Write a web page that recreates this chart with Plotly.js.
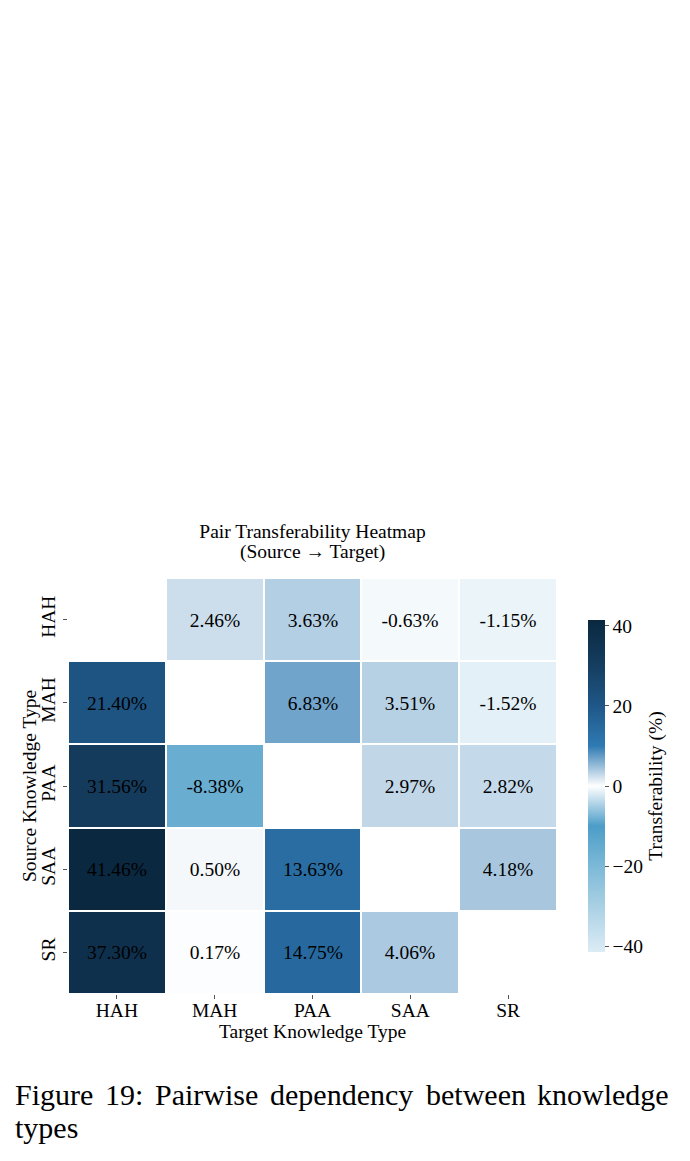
<!DOCTYPE html>
<html>
<head>
<meta charset="utf-8">
<script src="https://cdn.plot.ly/plotly-3.0.1.min.js"></script>
<style>
  html, body { margin: 0; padding: 0; background: #ffffff; }
  #chart { width: 690px; height: 1161px; }
</style>
</head>
<body>
<div id="chart"></div>
<script>
// Knowledge types (rows = source, columns = target)
const targetTypes = ["HAH", "MAH", "PAA", "SAA", "SR"];
const sourceTypes = ["HAH", "MAH", "PAA", "SAA", "SR"];

// Transferability (%) per source row; diagonal is undefined
const rowHAH = [null, 2.46, 3.63, -0.63, -1.15];
const rowMAH = [21.40, null, 6.83, 3.51, -1.52];
const rowPAA = [31.56, -8.38, null, 2.97, 2.82];
const rowSAA = [41.46, 0.50, 13.63, null, 4.18];
const rowSR  = [37.30, 0.17, 14.75, 4.06, null];

const colorbarTicks = [-40, -20, 0, 20, 40];

const z = [rowHAH, rowMAH, rowPAA, rowSAA, rowSR];
const cellText = z.map(r => r.map(v => v === null ? "" : v.toFixed(2) + "%"));

// symmetric colour range around zero
const allVals = z.flat().filter(v => v !== null);
const vmax = Math.max(...allVals.map(Math.abs));
const vmin = -vmax;

// blue scale: light at the low end, white at zero, navy at the top
const stopDefs = [
  [vmin, "#dcecf5"],
  [-30, "#a9d0e4"],
  [-20, "#7cb9d7"],
  [-10, "#4c9dc8"],
  [0, "#ffffff"],
  [10, "#2f7ab3"],
  [20, "#1f5788"],
  [30, "#153e60"],
  [vmax, "#0a2840"]
];
const colorscale = stopDefs.map(([v, c]) => [(v - vmin) / (vmax - vmin), c]);

const serif = "Liberation Serif, Times New Roman, serif";
const fs = 19.5;
const capSize = 30;

// plot area in pixels
const L = 68, R = 557, T = 578, B = 994;
const px2x = px => (px - L) / (R - L);
const px2y = py => (B - py) / (B - T);

const trace = {
  type: "heatmap",
  x: targetTypes,
  y: sourceTypes,
  z: z,
  text: cellText,
  texttemplate: "%{text}",
  textfont: { family: serif, size: fs, color: "#000000" },
  colorscale: colorscale,
  zmin: vmin,
  zmax: vmax,
  xgap: 2,
  ygap: 2,
  hoverongaps: false,
  colorbar: {
    x: px2x(588),
    xanchor: "left",
    y: px2y(786),
    yanchor: "middle",
    len: 332,
    lenmode: "pixels",
    ypad: 0,
    xpad: 0,
    thickness: 17,
    outlinewidth: 0,
    tickvals: colorbarTicks,
    ticks: "outside",
    ticklen: 4,
    tickcolor: "#555555",
    tickfont: { family: serif, size: fs, color: "#000000" },
    title: {
      text: "Transferability (%)",
      side: "right",
      font: { family: serif, size: fs, color: "#000000" }
    }
  }
};

const annotations = [];

// second title line
annotations.push({
  text: "(Source \u2192 Target)", xref: "paper", yref: "paper",
  x: 0.5, y: px2y(552), xanchor: "center", yanchor: "middle", showarrow: false,
  font: { family: serif, size: fs, color: "#000000" }
});

// axis titles
annotations.push({
  text: "Target Knowledge Type", xref: "paper", yref: "paper",
  x: 0.5, y: px2y(1031), xanchor: "center", yanchor: "middle", showarrow: false,
  font: { family: serif, size: fs, color: "#000000" }
});
annotations.push({
  text: "Source Knowledge Type", xref: "paper", yref: "paper",
  x: px2x(29), y: 0.5, xanchor: "center", yanchor: "middle", showarrow: false,
  textangle: -90,
  font: { family: serif, size: fs, color: "#000000" }
});

// caption: first line justified between the page margins, word by word
const captionLine1 = ["Figure", "19:", "Pairwise", "dependency", "between", "knowledge"];
const captionLine2 = "types";
const capLeft = 15, capRight = 669;
const ctx = document.createElement("canvas").getContext("2d");
ctx.font = capSize + "px 'Liberation Serif'";
const widths = captionLine1.map(w => ctx.measureText(w).width);
const gap = (capRight - capLeft - widths.reduce((a, b) => a + b, 0)) / (captionLine1.length - 1);
let cursor = capLeft;
captionLine1.forEach((w, i) => {
  annotations.push({
    text: w, xref: "paper", yref: "paper",
    x: px2x(cursor - 2), y: px2y(1094),
    xanchor: "left", yanchor: "middle", showarrow: false,
    font: { family: serif, size: capSize, color: "#000000" }
  });
  cursor += widths[i] + gap;
});
annotations.push({
  text: captionLine2, xref: "paper", yref: "paper",
  x: px2x(capLeft - 2), y: px2y(1127),
  xanchor: "left", yanchor: "middle", showarrow: false,
  font: { family: serif, size: capSize, color: "#000000" }
});

const layout = {
  width: 690,
  height: 1161,
  margin: { l: L, r: 690 - R, t: T, b: 1161 - B, pad: 0 },
  paper_bgcolor: "#ffffff",
  plot_bgcolor: "#ffffff",
  title: {
    text: "Pair Transferability Heatmap",
    font: { family: serif, size: fs, color: "#000000" },
    x: 0.5, xref: "paper", xanchor: "center",
    y: 1 - 531 / 1161, yref: "container", yanchor: "middle"
  },
  xaxis: {
    type: "category",
    showgrid: false, zeroline: false, showline: false,
    ticks: "outside", ticklen: 4, tickcolor: "#555555",
    ticklabelstandoff: -5,
    tickfont: { family: serif, size: fs, color: "#000000" }
  },
  yaxis: {
    type: "category",
    autorange: "reversed",
    showgrid: false, zeroline: false, showline: false,
    ticks: "outside", ticklen: 4, tickcolor: "#555555",
    tickangle: -90,
    tickfont: { family: serif, size: fs, color: "#000000" }
  },
  annotations: annotations
};

Plotly.newPlot("chart", [trace], layout, { displayModeBar: false, staticPlot: true });
</script>
</body>
</html>
